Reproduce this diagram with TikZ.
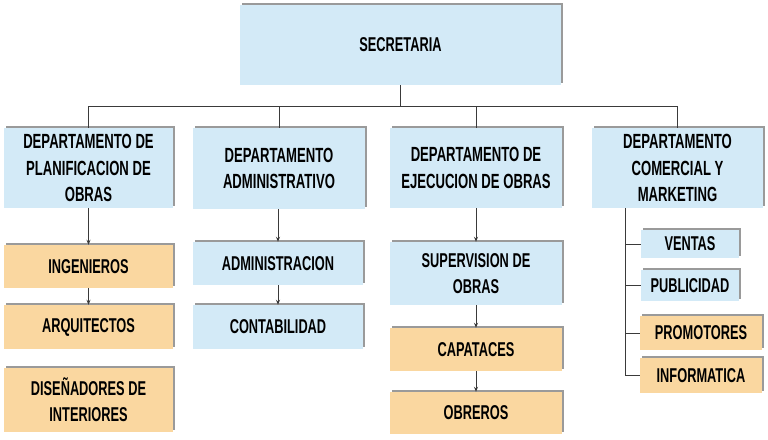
\documentclass[tikz,border=0pt]{standalone}
\usepackage{fontspec}
\setmainfont{Liberation Sans}[FakeStretch=0.64]
\usetikzlibrary{shadows,arrows.meta}
\definecolor{bluebox}{HTML}{D3EAF7}
\definecolor{orangebox}{HTML}{FAD7A0}
\definecolor{shadowgray}{HTML}{9A9A9A}
\definecolor{linegray}{HTML}{3A3A3A}
\tikzset{
  box/.style={inner sep=0pt, align=center, font=\bfseries\fontsize{20}{26}\selectfont,
    general shadow={shadow xshift=1.6pt, shadow yshift=1.6pt, fill=shadowgray}},
  bbox/.style={box, fill=bluebox},
  obox/.style={box, fill=orangebox},
  deptfont/.style={font=\bfseries\fontsize{20.5}{26.5}\selectfont},
  conn/.style={draw=linegray, line width=0.8pt},
  arr/.style={conn, -{Stealth[length=5pt,width=4pt]}},
}
\begin{document}
\begin{tikzpicture}[x=1pt,y=-1pt]
\useasboundingbox (0,0) rectangle (768,439);
\fill[white] (0,0) rectangle (768,439);
% top
\node[bbox, minimum width=321pt, minimum height=80pt] (sec) at (400.5,45) {SECRETARIA};
% departments
\node[bbox, deptfont, minimum width=169pt, minimum height=80pt] (d1) at (88.5,168) {DEPARTAMENTO DE\\PLANIFICACION DE\\OBRAS};
\node[bbox, deptfont, minimum width=172pt, minimum height=81pt] (d2) at (279,168.5) {DEPARTAMENTO\\ADMINISTRATIVO};
\node[bbox, deptfont, minimum width=172pt, minimum height=80pt] (d3) at (476,168) {DEPARTAMENTO DE\\EJECUCION DE OBRAS};
\node[bbox, deptfont, minimum width=171pt, minimum height=80pt] (d4) at (677.5,168) {DEPARTAMENTO\\COMERCIAL Y\\MARKETING};
% column 1
\node[obox, minimum width=169pt, minimum height=43pt] (ing) at (88.5,266.5) {INGENIEROS};
\node[obox, minimum width=169pt, minimum height=44pt] (arq) at (88.5,327) {ARQUITECTOS};
\node[obox, minimum width=169pt, minimum height=64pt] (dis) at (88.5,400) {DISEÑADORES DE\\INTERIORES};
% column 2
\node[bbox, minimum width=170pt, minimum height=43pt] (adm) at (278,263.5) {ADMINISTRACION};
\node[bbox, minimum width=170pt, minimum height=44pt] (con) at (278,327) {CONTABILIDAD};
% column 3
\node[bbox, minimum width=172pt, minimum height=63pt] (sup) at (476,273.5) {SUPERVISION DE\\OBRAS};
\node[obox, minimum width=172pt, minimum height=43pt] (cap) at (476,349.5) {CAPATACES};
\node[obox, minimum width=172pt, minimum height=42pt] (obr) at (476,413) {OBREROS};
% column 4
\node[bbox, minimum width=98pt, minimum height=28pt] (ven) at (690,244) {VENTAS};
\node[bbox, minimum width=98pt, minimum height=31pt] (pub) at (690,285.5) {PUBLICIDAD};
\node[obox, minimum width=122pt, minimum height=34pt] (pro) at (701,333) {PROMOTORES};
\node[obox, minimum width=122pt, minimum height=35pt] (inf) at (701,375.5) {INFORMATICA};
% bus
\coordinate (bus) at (0,106);
\coordinate (trunk) at (625,0);
\draw[conn] (sec.south) -- (sec.south |- bus);
\draw[conn] (d1.north |- bus) -- (d4.north |- bus);
\foreach \n in {d1,d2,d3,d4} \draw[conn] (\n.north |- bus) -- (\n.north);
% arrows
\draw[arr] (d1.south) -- (ing.north);
\draw[arr] (ing.south) -- (arq.north);
\draw[arr] (adm.north |- d2.south) -- (adm.north);
\draw[arr] (adm.south) -- (con.north);
\draw[arr] (sup.north |- d3.south) -- (sup.north);
\draw[arr] (sup.south) -- (cap.north);
\draw[arr] (cap.south) -- (obr.north);
% comercial tree
\draw[conn] (d4.south -| trunk) -- (inf.west -| trunk) -- (inf.west);
\foreach \n in {ven,pub,pro} \draw[conn] (\n.west -| trunk) -- (\n.west);
\end{tikzpicture}
\end{document}
